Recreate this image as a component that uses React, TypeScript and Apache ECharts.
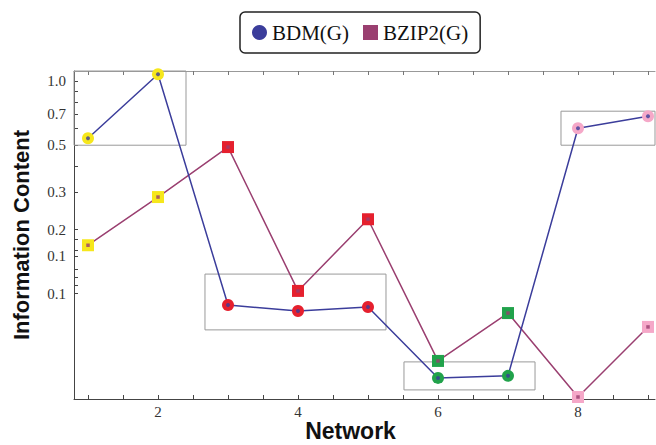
import React, { useEffect, useRef } from "react";
import * as echarts from "echarts";

const networks = [1, 2, 3, 4, 5, 6, 7, 8, 9];
const bdmValues = [0.539, 1.079, 0.0884, 0.0828, 0.0865, 0.0401, 0.041, 0.601, 0.684];
const bzip2Values = [0.169, 0.285, 0.49, 0.103, 0.224, 0.0482, 0.081, 0.0326, 0.0697];
const groupColors = [
  "#f6e71c", "#f6e71c",
  "#e5202e", "#e5202e", "#e5202e",
  "#21a24b", "#21a24b",
  "#f5a8c8", "#f5a8c8",
];
const yLabelValues = [1.0, 0.7, 0.5, 0.3, 0.2, 0.15, 0.1];
const yTickLabels = ["1.0", "0.7", "0.5", "0.3", "0.2", "0.1", "0.1"];
const yTickValues = [1.0, 0.9, 0.8, 0.7, 0.6, 0.5, 0.4, 0.3, 0.2, 0.18, 0.16, 0.15, 0.13, 0.12, 0.11, 0.1];
const xTickValues = [1, 1.5, 2, 2.5, 3, 3.5, 4, 4.5, 5, 5.5, 6, 6.5, 7, 7.5, 8, 8.5, 9];
const xLabelValues = [2, 4, 6, 8];
// highlighted groups of BDM points: [xFrom, yFrom, xTo, yTo]
const groupBoxes = [
  [0.8, 0.5, 2.4, 1.118],
  [2.671, 0.0675, 5.257, 0.1236],
  [5.514, 0.0352, 7.386, 0.0477],
  [7.757, 0.5, 9.1, 0.723],
];

const BDM_COLOR = "#3b3d9b";
const BZIP_COLOR = "#9a3f70";

export default function App() {
  const ref = useRef<HTMLDivElement>(null);
  useEffect(() => {
    if (!ref.current) return;
    const chart = echarts.init(ref.current, undefined, { renderer: "svg" });
    const serif = "Liberation Serif";
    chart.setOption({
      animation: false,
      backgroundColor: "#ffffff",
      legend: {
        left: 240,
        top: 12,
        padding: [10, 12],
        borderColor: "#222",
        borderWidth: 1.5,
        borderRadius: 5,
        itemWidth: 15,
        itemHeight: 15,
        itemGap: 14,
        textStyle: { fontFamily: serif, fontSize: 21, color: "#111" },
        data: [
          { name: "BDM(G)", icon: "circle" },
          { name: "BZIP2(G)", icon: "rect" },
        ],
      },
      grid: { left: 74, right: 1, top: 71, bottom: 46, outerBoundsMode: "none", containLabel: false },
      xAxis: [
        {
          type: "value",
          min: 0.8,
          max: 9.1,
          name: "Network",
          nameLocation: "middle",
          nameGap: 20,
          nameMoveOverlap: false,
          nameTextStyle: {
            fontFamily: "Liberation Sans",
            fontWeight: "bold",
            fontSize: 23,
            lineHeight: 23,
            color: "#111",
            padding: [0, 28, 0, 0],
          },
          axisLine: { show: true, lineStyle: { color: "#444", width: 1 } },
          axisTick: { show: true, inside: true, length: 4, customValues: xTickValues, lineStyle: { color: "#444" } },
          axisLabel: {
            customValues: xLabelValues,
            fontFamily: serif,
            fontSize: 15,
            color: "#333",
            margin: 5,
          },
          splitLine: { show: false },
        },
        {
          type: "value",
          position: "top",
          min: 0.8,
          max: 9.1,
          axisLine: { show: true, lineStyle: { color: "#999", width: 1 } },
          axisTick: { show: true, inside: true, length: 4, customValues: xTickValues, lineStyle: { color: "#777" } },
          axisLabel: { show: false },
          splitLine: { show: false },
        },
      ],
      yAxis: {
        type: "log",
        logBase: 10,
        min: 0.0319,
        max: 1.118,
        name: "Information Content",
        nameLocation: "middle",
        nameGap: 42,
        nameTextStyle: {
          fontFamily: "Liberation Sans",
          fontWeight: "bold",
          fontSize: 22,
          color: "#111",
        },
        axisLine: { show: true, lineStyle: { color: "#444", width: 1 } },
        axisTick: { show: true, inside: true, length: 4, customValues: yTickValues, lineStyle: { color: "#444" } },
        axisLabel: {
          customValues: yLabelValues,
          fontFamily: serif,
          fontSize: 15,
          color: "#333",
          margin: 8,
          formatter: (v: number) => {
            let best = 0;
            for (let i = 0; i < yLabelValues.length; i++) {
              if (Math.abs(yLabelValues[i] - v) < Math.abs(yLabelValues[best] - v)) best = i;
            }
            return yTickLabels[best];
          },
        },
        splitLine: { show: false },
      },
      series: [
        {
          name: "BDM(G)",
          type: "line",
          xAxisIndex: 0,
          symbol: "circle",
          symbolSize: 12,
          z: 3,
          lineStyle: { color: BDM_COLOR, width: 1.5 },
          itemStyle: { color: BDM_COLOR },
          data: networks.map((n, i) => ({ value: [n, bdmValues[i]], itemStyle: { color: groupColors[i] } })),
          markArea: {
            silent: true,
            itemStyle: { color: "rgba(0,0,0,0)", borderColor: "#999", borderWidth: 1 },
            data: groupBoxes.map((b) => [{ coord: [b[0], b[1]] }, { coord: [b[2], b[3]] }]),
          },
        },
        {
          name: "BZIP2(G)",
          type: "line",
          xAxisIndex: 0,
          symbol: "rect",
          symbolSize: 12,
          z: 2,
          lineStyle: { color: BZIP_COLOR, width: 1.5 },
          itemStyle: { color: BZIP_COLOR },
          data: networks.map((n, i) => ({ value: [n, bzip2Values[i]], itemStyle: { color: groupColors[i] } })),
        },
        {
          name: "bdm-dot",
          type: "scatter",
          symbol: "circle",
          symbolSize: 4,
          z: 5,
          silent: true,
          itemStyle: { color: BDM_COLOR },
          data: networks.map((n, i) => [n, bdmValues[i]]),
        },
        {
          name: "bzip-dot",
          type: "scatter",
          symbol: "rect",
          symbolSize: 3.5,
          z: 4,
          silent: true,
          itemStyle: { color: BZIP_COLOR },
          data: networks.map((n, i) => [n, bzip2Values[i]]),
        },
      ],
    });
    return () => chart.dispose();
  }, []);
  return <div ref={ref} style={{ width: 656, height: 445, position: "absolute", left: 0, top: 0 }} />;
}
